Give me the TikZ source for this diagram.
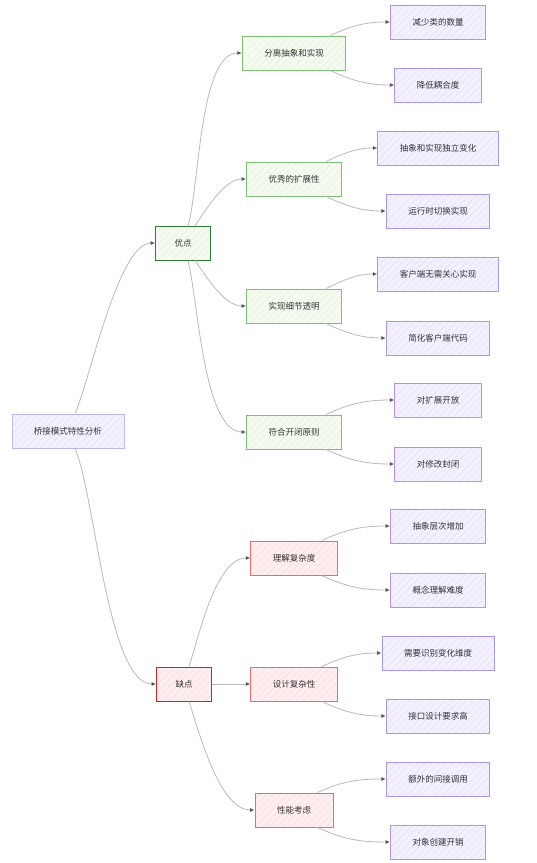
\documentclass[tikz,border=0pt]{standalone}
\usepackage{fontspec}
\setmainfont{Noto Sans CJK SC}
\usetikzlibrary{arrows.meta, patterns.meta}

\definecolor{txt}{RGB}{51,51,51}
\definecolor{lfline}{RGB}{172,150,234}
\definecolor{lffill}{RGB}{243,241,255}
\definecolor{lfhatch}{RGB}{226,220,252}
\definecolor{rtline}{RGB}{196,180,242}
\definecolor{gnline}{RGB}{126,192,116}
\definecolor{gnfill}{RGB}{245,251,240}
\definecolor{gnhatch}{RGB}{226,241,216}
\definecolor{gndark}{RGB}{46,125,50}
\definecolor{rdline}{RGB}{230,106,112}
\definecolor{rdfill}{RGB}{254,238,240}
\definecolor{rdhatch}{RGB}{250,216,221}
\definecolor{rddark}{RGB}{198,40,40}
\definecolor{edgec}{RGB}{185,185,185}
\definecolor{tipc}{RGB}{85,85,85}

\begin{document}
\begin{tikzpicture}[x=1pt, y=1pt,
    box/.style={rectangle, draw, line width=0.9pt, align=center, text=txt,
                font=\fontsize{8.5}{10}\selectfont, inner xsep=22pt, minimum height=34pt},
    leaf/.style={box, draw=lfline, preaction={fill=lffill},
                 preaction={pattern color=lfhatch, pattern={Lines[angle=45,distance=5pt,line width=0.5pt]}}},
    rootbox/.style={leaf, draw=rtline},
    good/.style={box, draw=gnline, preaction={fill=gnfill},
                 preaction={pattern color=gnhatch, pattern={Lines[angle=45,distance=5pt,line width=0.5pt]}}},
    bad/.style={box, draw=rdline, preaction={fill=rdfill},
                preaction={pattern color=rdhatch, pattern={Lines[angle=45,distance=5pt,line width=0.5pt]}}},
    con/.style={-{Latex[length=4.5pt, width=4pt, color=tipc]}, line width=0.8pt, color=edgec},
]
\useasboundingbox (0,0) rectangle (537,-863);

% Root and the two branches
\node[rootbox] (root) at (68,-431) {桥接模式特性分析};
\node[good, draw=gndark, inner xsep=19pt] (pro) at (183,-243) {优点};
\node[bad, draw=rddark, inner xsep=19pt]  (cons) at (184,-684) {缺点};

% Advantages
\node[good] (p1) at (294,-53)  {分离抽象和实现};
\node[good] (p2) at (294,-179) {优秀的扩展性};
\node[good] (p3) at (294,-306) {实现细节透明};
\node[good] (p4) at (294,-432) {符合开闭原则};

% Disadvantages
\node[bad] (c1) at (294,-558) {理解复杂度};
\node[bad] (c2) at (294,-684) {设计复杂性};
\node[bad] (c3) at (294,-810) {性能考虑};

% Leaves
\node[leaf] (p1a) at (438,-22)  {减少类的数量};
\node[leaf] (p1b) at (438,-85)  {降低耦合度};
\node[leaf] (p2a) at (438,-148) {抽象和实现独立变化};
\node[leaf] (p2b) at (438,-211) {运行时切换实现};
\node[leaf] (p3a) at (438,-274) {客户端无需关心实现};
\node[leaf] (p3b) at (438,-338) {简化客户端代码};
\node[leaf] (p4a) at (438,-400) {对扩展开放};
\node[leaf] (p4b) at (438,-464) {对修改封闭};
\node[leaf] (c1a) at (438,-526) {抽象层次增加};
\node[leaf] (c1b) at (438,-590) {概念理解难度};
\node[leaf] (c2a) at (438,-653) {需要识别变化维度};
\node[leaf] (c2b) at (438,-716) {接口设计要求高};
\node[leaf] (c3a) at (438,-779) {额外的间接调用};
\node[leaf] (c3b) at (438,-842) {对象创建开销};

% Arrows from the root
\draw[con] ([xshift=7pt]root.north) to[out=66, in=180, looseness=0.5] (pro.west);
\draw[con] ([xshift=7pt]root.south) to[out=-66, in=180, looseness=0.5] (cons.west);

% Arrows to the advantages
\draw[con] ([xshift=5pt]pro.north)  to[out=74, in=180, looseness=0.6]  (p1.west);
\draw[con] ([xshift=12pt]pro.north) to[out=55, in=180, looseness=0.8]  (p2.west);
\draw[con] ([xshift=12pt]pro.south) to[out=-55, in=180, looseness=0.8] (p3.west);
\draw[con] ([xshift=5pt]pro.south)  to[out=-76, in=180, looseness=0.6] (p4.west);

% Arrows to the disadvantages
\draw[con] ([xshift=5pt]cons.north) to[out=72, in=180, looseness=0.7]  (c1.west);
\draw[con] (cons.east) -- (c2.west);
\draw[con] ([xshift=5pt]cons.south) to[out=-72, in=180, looseness=0.7] (c3.west);

% Arrows to the leaves
\draw[con] ([xshift=-16pt]p1.north east) to[out=25, in=180]  (p1a.west);
\draw[con] ([xshift=-16pt]p1.south east) to[out=-25, in=180] (p1b.west);
\draw[con] ([xshift=-16pt]p2.north east) to[out=25, in=180]  (p2a.west);
\draw[con] ([xshift=-16pt]p2.south east) to[out=-25, in=180] (p2b.west);
\draw[con] ([xshift=-16pt]p3.north east) to[out=25, in=180]  (p3a.west);
\draw[con] ([xshift=-16pt]p3.south east) to[out=-25, in=180] (p3b.west);
\draw[con] ([xshift=-16pt]p4.north east) to[out=25, in=180]  (p4a.west);
\draw[con] ([xshift=-16pt]p4.south east) to[out=-25, in=180] (p4b.west);
\draw[con] ([xshift=-16pt]c1.north east) to[out=25, in=180]  (c1a.west);
\draw[con] ([xshift=-16pt]c1.south east) to[out=-25, in=180] (c1b.west);
\draw[con] ([xshift=-16pt]c2.north east) to[out=25, in=180]  (c2a.west);
\draw[con] ([xshift=-16pt]c2.south east) to[out=-25, in=180] (c2b.west);
\draw[con] ([xshift=-16pt]c3.north east) to[out=25, in=180]  (c3a.west);
\draw[con] ([xshift=-16pt]c3.south east) to[out=-25, in=180] (c3b.west);
\end{tikzpicture}
\end{document}
